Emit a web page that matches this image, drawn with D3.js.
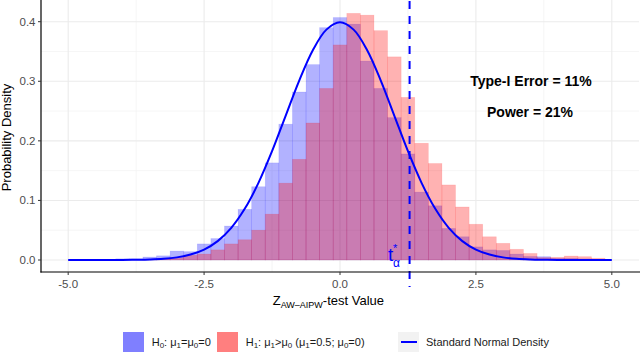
<!DOCTYPE html>
<html><head><meta charset="utf-8">
<script src="https://cdn.jsdelivr.net/npm/d3@7"></script>
<style>body{margin:0;background:#fff} svg{display:block;font-family:"Liberation Sans",Arial,sans-serif}</style>
</head><body><svg id="c" width="640" height="353"></svg>
<script>
// ---- data ----
const binCenters = [-4.5,-4.25,-4.0,-3.75,-3.5,-3.25,-3.0,-2.75,-2.5,-2.25,-2.0,-1.75,-1.5,-1.25,-1.0,-0.75,-0.5,-0.25,0,0.25,0.5,0.75,1.0,1.25,1.5,1.75,2.0,2.25,2.5,2.75,3.0,3.25,3.5,3.75,4.0,4.25,4.5,4.75,5.0];
const h0Density = [0.0,0.0,0.002,0.002,0.005,0.007,0.015,0.014,0.027,0.036,0.057,0.085,0.123,0.163,0.228,0.282,0.328,0.390,0.407,0.396,0.334,0.288,0.239,0.178,0.114,0.091,0.053,0.039,0.022,0.017,0.016,0.010,0.006,0.0056,0.003,0.003,0.002,0.0,0.0];
const h1Density = [0.0,0.0,0.0,0.0,0.001,0.002,0.004,0.008,0.010,0.017,0.027,0.034,0.050,0.077,0.129,0.169,0.230,0.288,0.361,0.414,0.411,0.385,0.341,0.273,0.196,0.162,0.126,0.089,0.060,0.039,0.028,0.018,0.011,0.004,0.0045,0.0067,0.0056,0.003,0.0];
const normX = [-5,-4.75,-4.5,-4.25,-4,-3.75,-3.5,-3.25,-3,-2.75,-2.5,-2.25,-2,-1.75,-1.5,-1.25,-1,-0.75,-0.5,-0.25,0,0.25,0.5,0.75,1,1.25,1.5,1.75,2,2.25,2.5,2.75,3,3.25,3.5,3.75,4,4.25,4.5,4.75,5];
const normY = [0,0,0,0,0.0001,0.0004,0.0009,0.0020,0.0044,0.0091,0.0175,0.0317,0.0540,0.0863,0.1295,0.1826,0.2420,0.3011,0.3521,0.3867,0.3989,0.3867,0.3521,0.3011,0.2420,0.1826,0.1295,0.0863,0.0540,0.0317,0.0175,0.0091,0.0044,0.0020,0.0009,0.0004,0.0001,0,0,0,0];
const criticalValue = 1.28;
const binWidth = 0.25;
const xTicks = [-5,-2.5,0,2.5,5];
const xTickLabels = ["-5.0","-2.5","0.0","2.5","5.0"];
const xMinor = [-3.75,-1.25,1.25,3.75];
const yTicks = [0,0.1,0.2,0.3,0.4];
const yTickLabels = ["0.0","0.1","0.2","0.3","0.4"];
const yMinor = [0.05,0.15,0.25,0.35];
const annotations = ["Type-I Error = 11%","Power = 21%"];

// ---- drawing ----
const svg = d3.select("#c");
const L = 41, R = 639, T = 0, B = 272;
const x = d3.scaleLinear().domain([-5.5,5.5]).range([L,R]);
const y = d3.scaleLinear().domain([0,0.4]).range([260,21.7]);

const g = svg.append("g");
// grid
g.selectAll(".xmin").data(xMinor).join("line").attr("x1",d=>x(d)).attr("x2",d=>x(d)).attr("y1",T).attr("y2",B).attr("stroke","#f0f0f0").attr("stroke-width",0.7);
g.selectAll(".ymin").data(yMinor).join("line").attr("y1",d=>y(d)).attr("y2",d=>y(d)).attr("x1",L).attr("x2",R).attr("stroke","#f0f0f0").attr("stroke-width",0.7);
g.selectAll(".xmaj").data(xTicks).join("line").attr("x1",d=>x(d)).attr("x2",d=>x(d)).attr("y1",T).attr("y2",B).attr("stroke","#ebebeb").attr("stroke-width",1.1);
g.selectAll(".ymaj").data(yTicks).join("line").attr("y1",d=>y(d)).attr("y2",d=>y(d)).attr("x1",L).attr("x2",R).attr("stroke","#ebebeb").attr("stroke-width",1.1);

function bars(vals, col){
  g.append("g").selectAll("rect").data(binCenters.map((c,i)=>({c,v:vals[i]})).filter(d=>d.v>0)).join("rect")
    .attr("x",d=>x(d.c-binWidth/2)).attr("width",d=>x(d.c+binWidth/2)-x(d.c-binWidth/2))
    .attr("y",d=>y(d.v)).attr("height",d=>y(0)-y(d.v))
    .attr("fill",col).attr("fill-opacity",0.3)
    .attr("stroke",col).attr("stroke-opacity",0.12).attr("stroke-width",0.7);
}
bars(h0Density,"#0000ff");
bars(h1Density,"#ff0000");

// normal curve
const line = d3.line().x((d,i)=>x(normX[i])).y(d=>y(d)).curve(d3.curveCatmullRom);
g.append("path").attr("d",line(normY)).attr("fill","none").attr("stroke","#0000ff").attr("stroke-width",2);

// critical line
g.append("line").attr("x1",x(criticalValue)).attr("x2",x(criticalValue)).attr("y1",1).attr("y2",287)
  .attr("stroke","#0000ff").attr("stroke-width",2).attr("stroke-dasharray","8,7");
g.append("text").attr("x",388).attr("y",261).attr("font-size",19).attr("fill","#0000ff").text("t");
g.append("text").attr("x",393).attr("y",252).attr("font-size",11).attr("fill","#0000ff").text("*");
g.append("text").attr("x",393).attr("y",267).attr("font-size",12).attr("fill","#0000ff").text("α");

// annotations
g.append("text").attr("x",531).attr("y",86).attr("text-anchor","middle").attr("font-size",14).attr("font-weight","bold").text(annotations[0]);
g.append("text").attr("x",530).attr("y",117).attr("text-anchor","middle").attr("font-size",14).attr("font-weight","bold").text(annotations[1]);

// axes
g.append("line").attr("x1",L).attr("x2",L).attr("y1",T).attr("y2",B+0.6).attr("stroke","#000").attr("stroke-width",1.2);
g.append("line").attr("x1",L-0.6).attr("x2",640).attr("y1",B).attr("y2",B).attr("stroke","#000").attr("stroke-width",1.2);
g.selectAll(".yt").data(yTicks).join("line").attr("x1",L-3).attr("x2",L).attr("y1",d=>y(d)).attr("y2",d=>y(d)).attr("stroke","#333").attr("stroke-width",1);
g.selectAll(".xt").data(xTicks).join("line").attr("y1",B).attr("y2",B+3).attr("x1",d=>x(d)).attr("x2",d=>x(d)).attr("stroke","#333").attr("stroke-width",1);
g.selectAll(".ytl").data(yTicks).join("text").attr("x",35.5).attr("y",d=>y(d)+4).attr("text-anchor","end").attr("font-size",11.5).attr("fill","#4d4d4d").text((d,i)=>yTickLabels[i]);
g.selectAll(".xtl").data(xTicks).join("text").attr("x",d=>x(d)).attr("y",288).attr("text-anchor","middle").attr("font-size",11.5).attr("fill","#4d4d4d").text((d,i)=>xTickLabels[i]);

// axis titles
svg.append("text").attr("transform","translate(11,137.5) rotate(-90)").attr("text-anchor","middle").attr("font-size",13).text("Probability Density");
const xt = svg.append("text").attr("x",272.7).attr("y",304.5).attr("font-size",13);
xt.append("tspan").text("Z");
xt.append("tspan").attr("font-size",9).attr("dy",3).text("AW–AIPW");
xt.append("tspan").attr("dy",-3).text("-test Value");

// legend
const lg = svg.append("g");
lg.append("rect").attr("x",123).attr("y",332).attr("width",21).attr("height",20).attr("fill","#0000ff").attr("fill-opacity",0.5);
lg.append("rect").attr("x",217).attr("y",332).attr("width",21).attr("height",20).attr("fill","#ff0000").attr("fill-opacity",0.5);
lg.append("rect").attr("x",398).attr("y",332).attr("width",21).attr("height",20).attr("fill","#f2f2f2");
lg.append("line").attr("x1",401).attr("x2",417).attr("y1",342).attr("y2",342).attr("stroke","#0000ff").attr("stroke-width",2);
function rich(xp, parts){
  const t = lg.append("text").attr("x",xp).attr("y",345.5).attr("font-size",11).attr("fill","#1a1a1a");
  let sub=false;
  parts.forEach(p=>{
    const s = t.append("tspan").text(p[0]);
    if(p[1] && !sub){ s.attr("font-size",8).attr("dy",2.5); sub=true; }
    else if(!p[1] && sub){ s.attr("dy",-2.5); sub=false; }
  });
}
rich(151.7,[["H"],["0",1],[": μ"],["1",1],["=μ"],["0",1],["=0"]]);
rich(245.7,[["H"],["1",1],[": μ"],["1",1],[">μ"],["0",1],[" (μ"],["1",1],["=0.5; μ"],["0",1],["=0)"]]);
rich(426,[["Standard Normal Density"]]);
</script></body></html>
